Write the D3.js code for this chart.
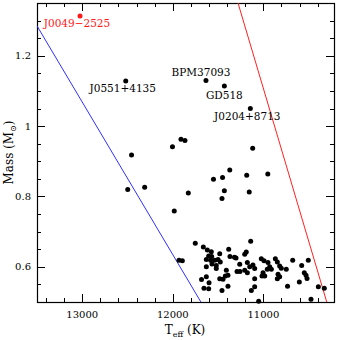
<!DOCTYPE html>
<html>
<head>
<meta charset="utf-8">
<script src="https://cdn.jsdelivr.net/npm/d3@7"></script>
<style>
  body { margin: 0; background: #fff; }
  text { font-family: "DejaVu Serif", serif; }
</style>
</head>
<body>
<svg id="main-svg"></svg>
<script>
/////////////////////
// DATA            //
/////////////////////
// Teff (K) and mass (Msun) of the plain white dwarfs
var teff = [
  12456, 12004, 11910, 11866, 11118, 12498, 12311, 11829, 11984, 11551,
  11451, 11371, 11184, 10951, 11431, 11457, 11156,
  11752, 11663, 11619, 11575, 11482, 11383, 11319, 11369, 11302, 11604,
  11582, 11537, 11501, 11476, 11567, 11630, 11520, 11520, 11409, 11683,
  11630, 11600, 11482, 11446, 11420, 11391, 11656, 11604, 11457, 11391,
  11932, 11895, 11140, 11189, 11206, 11261, 11177, 11151, 11115, 11096,
  11206, 11177, 11291, 11258, 11023, 10993, 10949, 10930, 10912, 10957,
  11004, 10985, 11015, 11096, 10868, 10846, 10820, 10802, 10838, 10820,
  10846, 10747, 11096, 11133, 10733, 11052, 10676, 10504, 10577, 10548,
  10529, 10518, 10603, 10393, 10327, 10474, 11571, 11630
];
var mass = [
  0.918, 0.941, 0.963, 0.959, 0.937, 0.820, 0.826, 0.810, 0.759, 0.849,
  0.854, 0.875, 0.860, 0.864, 0.816, 0.794, 0.813,
  0.667, 0.656, 0.648, 0.643, 0.637, 0.650, 0.627, 0.629, 0.625, 0.631,
  0.619, 0.619, 0.621, 0.614, 0.608, 0.600, 0.604, 0.595, 0.590, 0.564,
  0.572, 0.555, 0.566, 0.565, 0.574, 0.576, 0.539, 0.538, 0.533, 0.545,
  0.619, 0.617, 0.673, 0.642, 0.636, 0.607, 0.612, 0.600, 0.605, 0.595,
  0.590, 0.583, 0.587, 0.587, 0.623, 0.617, 0.612, 0.600, 0.593, 0.593,
  0.583, 0.574, 0.574, 0.566, 0.623, 0.614, 0.602, 0.596, 0.579, 0.572,
  0.566, 0.593, 0.543, 0.533, 0.545, 0.502, 0.619, 0.619, 0.604, 0.583,
  0.576, 0.567, 0.557, 0.543, 0.539, 0.508, 0.629, 0.621
];

// Named objects
var namedStars = ["J0049\u22122525", "J0551+4135", "BPM37093", "GD518", "J0204+8713"];
var namedTeff = [13025, 12520, 11634, 11431, 11144];
var namedMass = [1.313, 1.128, 1.130, 1.114, 1.050];

// Boundary lines [Teff, Mass] end points
var blueLine = [[13500, 1.285], [11690, 0.50]];
var redLine = [[11280, 1.35], [10300, 0.50]];

// Axis ticks
var xMajor = [13000, 12000, 11000];
var xMinor = d3.range(10400, 13500, 200);
var yMajor = [0.6, 0.8, 1, 1.2];
var yMajorLabels = ["0.6", "0.8", "1", "1.2"];
var yMinor = d3.range(0.55, 1.35, 0.05);

/////////////////////
// DRAWING         //
/////////////////////
var W = 339, H = 340;
// plot frame (don't call these top/left: window.top is read-only)
var fL = 37, fR = 334, fT = 3, fB = 302;

var canvas = d3.select('#main-svg').attr('width', W).attr('height', H);

var x = d3.scaleLinear().domain([13500, 10220]).range([fL, fR]);
var y = d3.scaleLinear().domain([0.5, 1.35]).range([fB, fT]);

// clip for the lines
canvas.append('clipPath').attr('id', 'frame-clip')
  .append('rect')
  .attr('x', fL).attr('y', fT)
  .attr('width', fR - fL).attr('height', fB - fT);

// ticks, inward on all four sides
var ticks = canvas.append('g').attr('stroke', '#000').attr('stroke-width', 1);
function xTicks(vals, len) {
  vals.forEach((v) => {
    var px = Math.round(x(v)) + 0.5;
    ticks.append('line').attr('x1', px).attr('x2', px).attr('y1', fB).attr('y2', fB - len);
    ticks.append('line').attr('x1', px).attr('x2', px).attr('y1', fT).attr('y2', fT + len);
  });
}
function yTicks(vals, len) {
  vals.forEach((v) => {
    var py = Math.round(y(v)) + 0.5;
    ticks.append('line').attr('y1', py).attr('y2', py).attr('x1', fL).attr('x2', fL + len);
    ticks.append('line').attr('y1', py).attr('y2', py).attr('x1', fR).attr('x2', fR - len);
  });
}
xTicks(xMinor.filter((v) => xMajor.indexOf(v) < 0), 4);
xTicks(xMajor, 8);
yTicks(yMinor.filter((v) => !yMajor.some((m) => Math.abs(m - v) < 1e-6)), 4);
yTicks(yMajor, 8);

// frame
canvas.append('rect')
  .attr('x', fL + 0.5).attr('y', fT + 0.5)
  .attr('width', fR - fL).attr('height', fB - fT)
  .attr('fill', 'none').attr('stroke', '#000').attr('stroke-width', 1.2);

// tick labels
canvas.append('g').selectAll('text').data(xMajor).enter().append('text')
  .attr('x', (d) => x(d)).attr('y', 318)
  .attr('text-anchor', 'middle').attr('font-size', 10)
  .text((d) => d);

canvas.append('g').selectAll('text').data(yMajor).enter().append('text')
  .attr('x', 31).attr('y', (d) => y(d) + 3.5)
  .attr('text-anchor', 'end').attr('font-size', 10)
  .text((d, i) => yMajorLabels[i]);

// axis titles
var xt = canvas.append('text').attr('x', 185).attr('y', 334)
  .attr('text-anchor', 'middle').attr('font-size', 12);
xt.append('tspan').text('T');
xt.append('tspan').attr('font-size', 8).attr('dy', 3).text('eff');
xt.append('tspan').attr('dy', -3).text(' (K)');

var yt = canvas.append('text')
  .attr('transform', `translate(13, ${(fT + fB) / 2}) rotate(-90)`)
  .attr('text-anchor', 'middle').attr('font-size', 12);
yt.append('tspan').text('Mass (M');
yt.append('tspan').attr('font-size', 8).attr('dy', 3).text('\u2299');
yt.append('tspan').attr('dy', -3).text(')');

// boundary lines
var line = d3.line().x((d) => x(d[0])).y((d) => y(d[1]));
var lines = canvas.append('g').attr('clip-path', 'url(#frame-clip)');
lines.append('path').attr('d', line(blueLine))
  .attr('fill', 'none').attr('stroke', '#3030ff').attr('stroke-width', 1);
lines.append('path').attr('d', line(redLine))
  .attr('fill', 'none').attr('stroke', '#ff2020').attr('stroke-width', 1);

// white dwarfs
canvas.append('g').selectAll('circle').data(teff).enter().append('circle')
  .attr('cx', (d) => x(d)).attr('cy', (d, i) => y(mass[i]))
  .attr('r', 2.5).attr('fill', '#000');

// named objects: first one highlighted in red
var labelShift = [[-3, 11], [-3, 11], [-5, -4.5], [0, 13], [-3, 11]];
var named = canvas.append('g').selectAll('g').data(namedStars).enter().append('g');
named.append('circle')
  .attr('cx', (d, i) => x(namedTeff[i])).attr('cy', (d, i) => y(namedMass[i]))
  .attr('r', 2.5).attr('fill', (d, i) => i == 0 ? '#ff1a1a' : '#000');
named.append('text')
  .attr('x', (d, i) => x(namedTeff[i]) + labelShift[i][0])
  .attr('y', (d, i) => y(namedMass[i]) + labelShift[i][1])
  .attr('text-anchor', 'middle').attr('font-size', 10.5)
  .attr('fill', (d, i) => i == 0 ? '#ff1a1a' : '#000')
  .text((d) => d);
</script>
</body>
</html>
